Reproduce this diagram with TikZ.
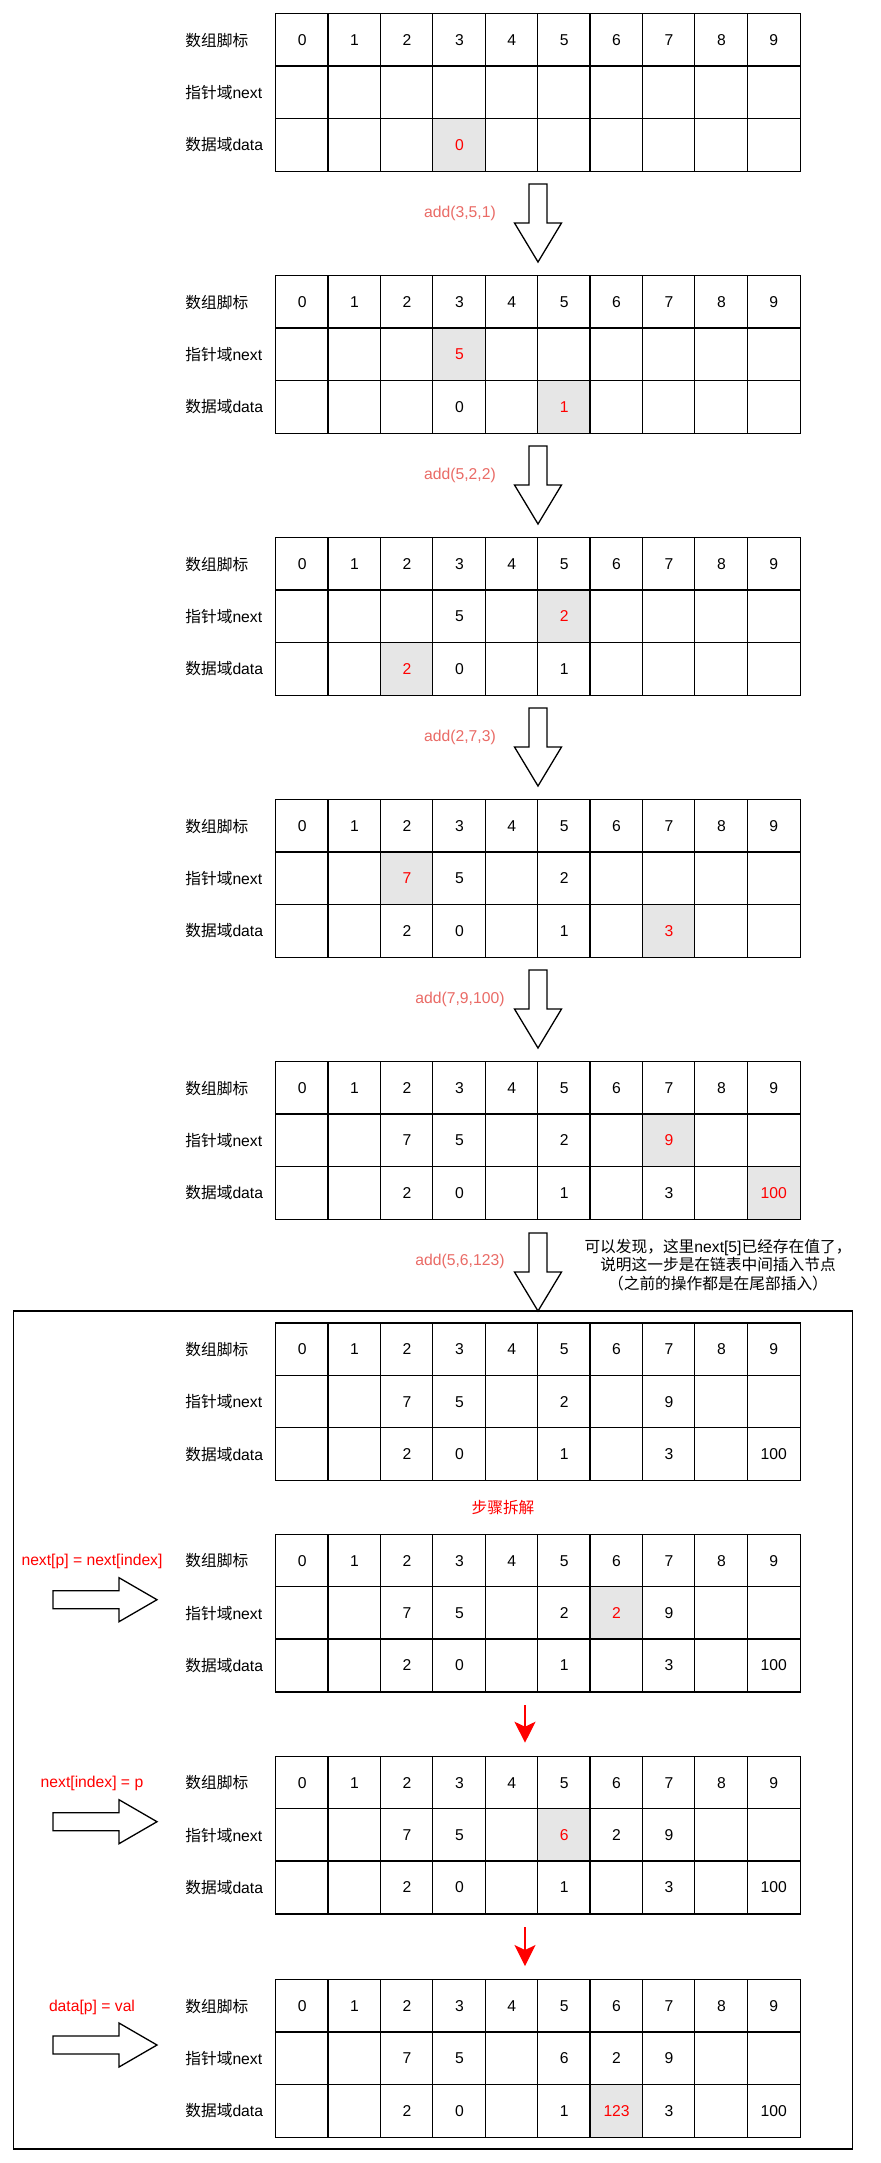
\documentclass[tikz,border=0pt]{standalone}
\usepackage{fontspec}
\setmainfont{Liberation Sans}
\newfontfamily\cjk{Noto Sans CJK SC}
\usetikzlibrary{arrows.meta}
\definecolor{hlgray}{HTML}{E6E6E6}
\definecolor{addred}{HTML}{EA6B66}
\definecolor{pure}{HTML}{FF0000}

% cells of one array (no borders): name, top y
\newcommand\arraygrid[2]{%
  \foreach \r in {0,1,2}{\foreach \c in {0,...,9}{%
    \node[cell] (#1-\r-\c) at ({302.2+52.4*\c},{#2+26.15+52.3*\r}) {\ifnum\r=0 \c\fi};
  }}%
  \node[lbl] (#1-l0) at (185,{#2+26.15}) {{\cjk 数组脚标}};
  \node[lbl] (#1-l1) at (185,{#2+78.45}) {{\cjk 指针域}next};
  \node[lbl] (#1-l2) at (185,{#2+130.75}) {{\cjk 数据域}data};
}
% grid lines of one array, drawn once each
\newcommand\gridlines[1]{%
  \draw[gridline] (#1-0-0.north west) rectangle (#1-2-9.south east);
  \foreach \c in {1,...,9}{\draw[gridline] (#1-0-\c.north west) -- (#1-2-\c.south west);}
  \foreach \r in {1,2}{\draw[gridline] (#1-\r-0.north west) -- (#1-\r-9.north east);}
}
\newcommand\val[4]{\node[vtxt] (#1-v#2-#3) at (#1-#2-#3) {#4};}
\newcommand\hl[4]{\node[hlcell] (#1-h#2-#3) at (#1-#2-#3) {#4};}
\newcommand\blkdown[2]{%
  \draw[blockarrow] ({#1-9},#2) -- ({#1+9},#2) -- ({#1+9},{#2+39}) -- ({#1+23.5},{#2+39})
    -- (#1,{#2+78}) -- ({#1-23.5},{#2+39}) -- ({#1-9},{#2+39}) -- cycle;}
\newcommand\blkright[2]{%
  \draw[blockarrow] (#1,{#2-9}) -- ({#1+66},{#2-9}) -- ({#1+66},{#2-22}) -- ({#1+104},#2)
    -- ({#1+66},{#2+22}) -- ({#1+66},{#2+9}) -- (#1,{#2+9}) -- cycle;}
\newcommand\fulldata[1]{\val{#1}{2}{2}{2}\val{#1}{2}{3}{0}\val{#1}{2}{5}{1}\val{#1}{2}{7}{3}\val{#1}{2}{9}{100}}

\begin{document}
\begin{tikzpicture}[x=0.5pt,y=-0.5pt,
  every node/.style={font=\fontsize{7.85}{9.4}\selectfont},
  cell/.style={minimum width=26.2pt, minimum height=26.15pt, inner sep=0pt},
  hlcell/.style={cell, fill=hlgray, text=pure},
  gridline/.style={draw=black, line width=0.65pt},
  vtxt/.style={inner sep=0pt},
  lbl/.style={anchor=west, inner sep=0pt},
  addlbl/.style={text=addred, inner sep=0pt},
  steplbl/.style={text=pure, inner sep=0pt},
  blockarrow/.style={draw=black, line width=0.65pt, fill=white, line join=miter},
  redarrow/.style={draw=pure, line width=0.65pt, -{Stealth[length=10.5pt,width=10.5pt,inset=2.5pt]}}
]
\fill[white] (0,0) rectangle (880,2163);
\useasboundingbox (0,0) rectangle (880,2163);

% ---- 1
\arraygrid{A}{14}
\hl{A}{2}{3}{0}
\gridlines{A}
\node[addlbl] (add1) at (460,213) {add(3,5,1)};
\blkdown{538}{184}

% ---- 2
\arraygrid{B}{276}
\hl{B}{1}{3}{5}
\val{B}{2}{3}{0}
\hl{B}{2}{5}{1}
\gridlines{B}
\node[addlbl] (add2) at (460,475) {add(5,2,2)};
\blkdown{538}{446}

% ---- 3
\arraygrid{C}{538}
\val{C}{1}{3}{5}\hl{C}{1}{5}{2}
\hl{C}{2}{2}{2}\val{C}{2}{3}{0}\val{C}{2}{5}{1}
\gridlines{C}
\node[addlbl] (add3) at (460,737) {add(2,7,3)};
\blkdown{538}{708}

% ---- 4
\arraygrid{D}{800}
\hl{D}{1}{2}{7}\val{D}{1}{3}{5}\val{D}{1}{5}{2}
\val{D}{2}{2}{2}\val{D}{2}{3}{0}\val{D}{2}{5}{1}\hl{D}{2}{7}{3}
\gridlines{D}
\node[addlbl] (add4) at (460,999) {add(7,9,100)};
\blkdown{538}{970}

% ---- 5
\arraygrid{E}{1062}
\val{E}{1}{2}{7}\val{E}{1}{3}{5}\val{E}{1}{5}{2}\hl{E}{1}{7}{9}
\val{E}{2}{2}{2}\val{E}{2}{3}{0}\val{E}{2}{5}{1}\val{E}{2}{7}{3}\hl{E}{2}{9}{100}
\gridlines{E}
\node[addlbl] (add5) at (460,1261) {add(5,6,123)};
\node[align=center, inner sep=0pt] (note) at (718,1265)
  {{\cjk 可以发现，这里}next[5]{\cjk 已经存在值了，}\\{\cjk 说明这一步是在链表中间插入节点}\\{\cjk （之前的操作都是在尾部插入）}};

% ---- frame
\node[draw=black, line width=0.65pt, minimum width=419.7pt, minimum height=419pt, inner sep=0pt] (frame) at (433,1730) {};
\blkdown{538}{1233}

% ---- 6
\arraygrid{F}{1323.3}
\val{F}{1}{2}{7}\val{F}{1}{3}{5}\val{F}{1}{5}{2}\val{F}{1}{7}{9}
\fulldata{F}
\gridlines{F}
\node[steplbl] (steps) at (503,1508) {{\cjk 步骤拆解}};

% ---- 7
\arraygrid{G}{1534.7}
\val{G}{1}{2}{7}\val{G}{1}{3}{5}\val{G}{1}{5}{2}\hl{G}{1}{6}{2}\val{G}{1}{7}{9}
\fulldata{G}
\gridlines{G}
\node[steplbl] (op1) at (92,1561.7) {next[p] = next[index]};
\blkright{53}{1599.7}

% ---- 8
\arraygrid{H}{1756.7}
\val{H}{1}{2}{7}\val{H}{1}{3}{5}\hl{H}{1}{5}{6}\val{H}{1}{6}{2}\val{H}{1}{7}{9}
\fulldata{H}
\gridlines{H}
\node[steplbl] (op2) at (92,1783.7) {next[index] = p};
\blkright{53}{1821.7}

% ---- 9
\arraygrid{I}{1980}
\val{I}{1}{2}{7}\val{I}{1}{3}{5}\val{I}{1}{5}{6}\val{I}{1}{6}{2}\val{I}{1}{7}{9}
\val{I}{2}{2}{2}\val{I}{2}{3}{0}\val{I}{2}{5}{1}\hl{I}{2}{6}{123}\val{I}{2}{7}{3}\val{I}{2}{9}{100}
\gridlines{I}
\node[steplbl] (op3) at (92,2007) {data[p] = val};
\blkright{53}{2045}

% red step arrows
\coordinate (r1s) at (525,1705);
\coordinate (r1e) at (525,1742.7);
\draw[redarrow] (r1s) -- (r1e);
\coordinate (r2s) at (525,1927);
\coordinate (r2e) at (525,1966);
\draw[redarrow] (r2s) -- (r2e);
\end{tikzpicture}
\end{document}
